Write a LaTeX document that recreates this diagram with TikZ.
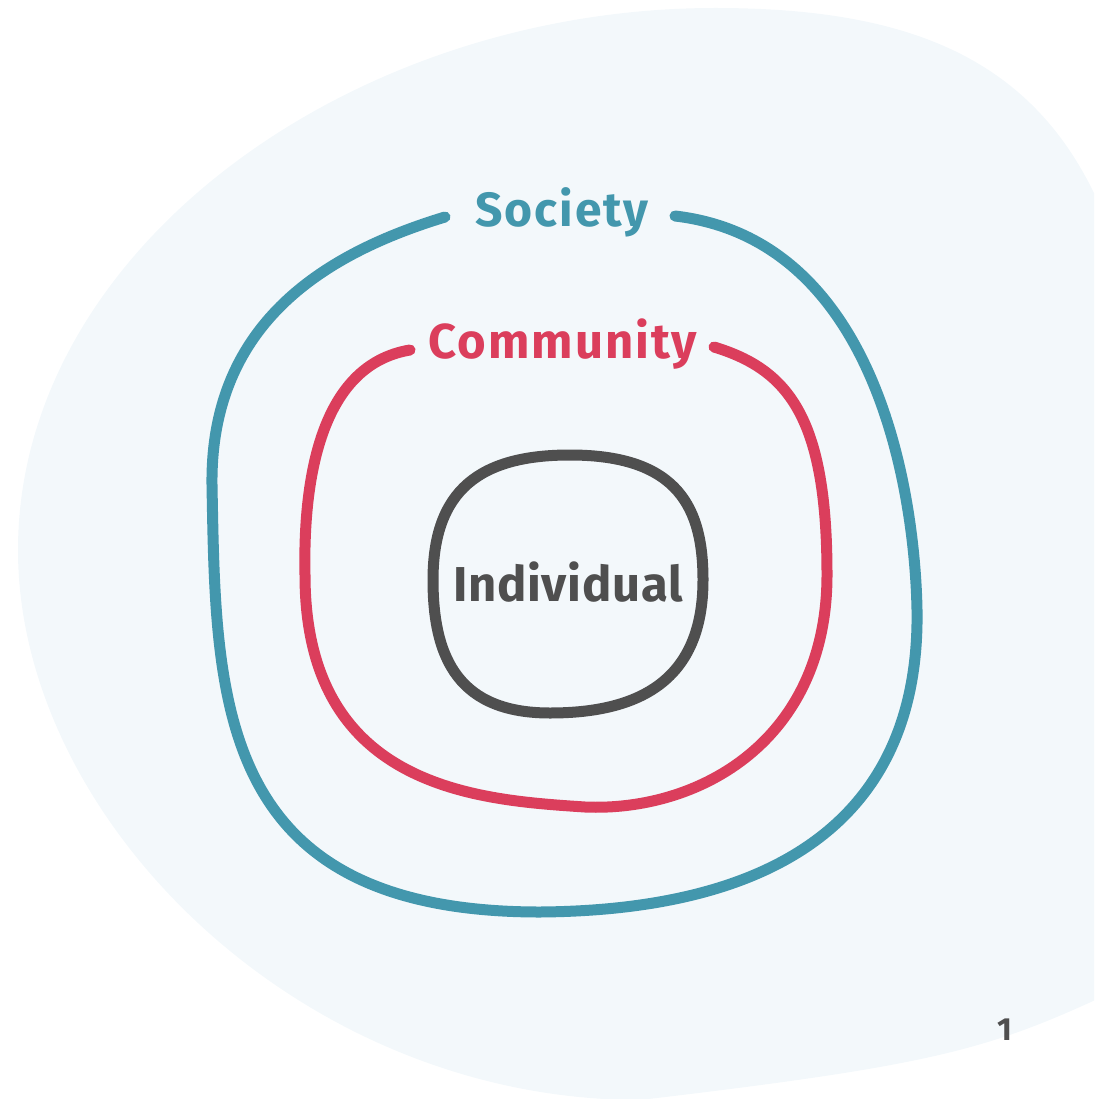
\documentclass[tikz,border=0pt]{standalone}
\usepackage{fontspec}
\setmainfont{Fira Sans}
\newfontfamily\labelfont[LetterSpace=4]{Fira Sans}
\newfontfamily\innerfont[LetterSpace=1.5]{Fira Sans}
\definecolor{bgblue}{HTML}{F3F8FB}
\definecolor{teal}{HTML}{4397AD}
\definecolor{crimson}{HTML}{DB3E5C}
\definecolor{darkgray}{HTML}{4F4F4F}
\tikzset{
  ring/.style={line width=11pt, line cap=round, line join=round},
  lbl/.style={anchor=base, inner sep=0pt, font=\labelfont\bfseries}
}
\begin{document}
\begin{tikzpicture}[x=1pt, y=-1pt]
\useasboundingbox (0,0) rectangle (1094,1099);
\clip (0,0) rectangle (1094,1099);
% background blob
\fill[bgblue] (18,550) .. controls (18,250) and (350,8) .. (715,8)
  .. controls (980,8) and (1130,100) .. (1150,450)
  .. controls (1160,700) and (1170,900) .. (1170,965)
  .. controls (1000,1045) and (980,1060) .. (640,1100)
  .. controls (300,1100) and (18,820) .. (18,550) -- cycle;
% Society ring
\draw[ring, teal] (445,217) .. controls (330,252) and (210,320) .. (212,485)
  .. controls (216,700) and (215,912) .. (540,912)
  .. controls (800,910) and (920,800) .. (917,610)
  .. controls (915,500) and (880,240) .. (675,216);
% Community ring
\draw[ring, crimson] (410,350) .. controls (320,365) and (303,480) .. (305,575)
  .. controls (305,790) and (480,800) .. (585,807)
  .. controls (700,812) and (827,740) .. (827,575)
  .. controls (827,420) and (790,370) .. (714,347);
% Individual ring
\draw[ring, darkgray] (570,455) .. controls (680,455) and (703,510) .. (703,580)
  .. controls (703,680) and (640,713) .. (550,713)
  .. controls (460,713) and (433,660) .. (433,580)
  .. controls (433,490) and (480,455) .. (570,455) -- cycle;
\node[lbl, text=teal, font=\labelfont\bfseries\fontsize{48}{58}\selectfont] (society) at (562,227) {Society};
\node[lbl, text=crimson, font=\labelfont\bfseries\fontsize{49}{59}\selectfont] (community) at (563,358) {Community};
\node[lbl, text=darkgray, font=\innerfont\bfseries\fontsize{49}{59}\selectfont] (individual) at (568,601) {Individual};
\node[lbl, text=darkgray, font=\labelfont\bfseries\fontsize{32}{40}\selectfont] (pagenum) at (1005,1040) {1};
\end{tikzpicture}
\end{document}
